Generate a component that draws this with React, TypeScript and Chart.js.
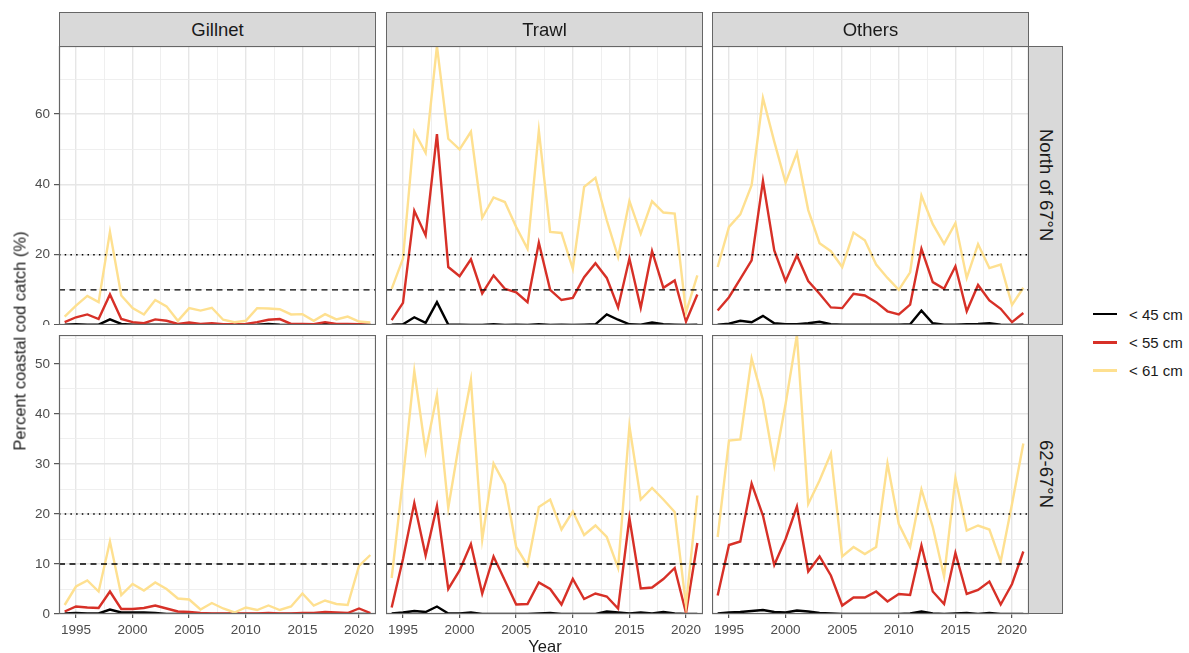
import React, { useEffect, useRef } from "react";
import { Chart, registerables } from "chart.js";

Chart.register(...registerables);

const FONT = '"Liberation Sans", Arial, Helvetica, sans-serif';

// ---------------- data ----------------
const years = [1994, 1995, 1996, 1997, 1998, 1999, 2000, 2001, 2002, 2003, 2004, 2005, 2006, 2007,
  2008, 2009, 2010, 2011, 2012, 2013, 2014, 2015, 2016, 2017, 2018, 2019, 2020, 2021];

const gears = ["Gillnet", "Trawl", "Others"];
const regions = ["North of 67°N", "62-67°N"];
const sizeClasses = ["< 45 cm", "< 55 cm", "< 61 cm"];
const sizeColors = ["#000000", "#D73027", "#FEE090"];

const xTickValues = [1995, 1997.5, 2000, 2002.5, 2005, 2007.5, 2010, 2012.5, 2015, 2017.5, 2020];
const xMin = 1993.5;
const xMax = 2021.5;
const yTicksNorth = [0, 10, 20, 30, 40, 50, 60, 70];
const yTicksSouth = [0, 5, 10, 15, 20, 25, 30, 35, 40, 45, 50, 55];
const yMaxNorth = 79.4;
const yMaxSouth = 55.8;
const dashedLevel = 10;
const dottedLevel = 20;

// North of 67°N
const gillnetNorth45 = [0.1, 0.2, 0.1, 0.1, 1.6, 0.3, 0.1, 0.1, 0.1, 0.1, 0.0, 0.1, 0.0, 0.1, 0.0, 0.0, 0.0, 0.1, 0.3, 0.1, 0.0, 0.0, 0.0, 0.4, 0.1, 0.0, 0.0, 0.0];
const gillnetNorth55 = [0.8, 2.2, 3.0, 1.7, 8.7, 1.7, 0.8, 0.5, 1.6, 1.2, 0.3, 0.7, 0.3, 0.5, 0.2, 0.2, 0.3, 0.8, 1.5, 1.7, 0.3, 0.3, 0.2, 0.8, 0.3, 0.3, 0.2, 0.1];
const gillnetNorth61 = [2.4, 5.5, 8.3, 6.5, 26.5, 8.4, 4.8, 3.0, 7.1, 5.3, 1.2, 4.8, 4.1, 4.9, 1.5, 0.8, 1.2, 4.8, 4.7, 4.5, 3.0, 3.1, 1.2, 3.1, 1.6, 2.4, 1.0, 0.7];

const trawlNorth45 = [0.1, 0.2, 2.2, 0.6, 6.5, 0.1, 0.1, 0.0, 0.0, 0.2, 0.0, 0.1, 0.0, 0.2, 0.0, 0.1, 0.0, 0.1, 0.2, 3.0, 1.5, 0.2, 0.1, 0.7, 0.2, 0.1, 0.0, 0.1];
const trawlNorth55 = [1.4, 6.3, 32.5, 25.5, 54.3, 16.5, 13.9, 18.7, 9.0, 14.1, 10.3, 9.3, 6.5, 23.4, 10.0, 7.1, 7.7, 13.6, 17.6, 13.4, 5.0, 18.9, 4.9, 21.0, 10.6, 12.7, 1.0, 8.7];
const trawlNorth61 = [10.3, 18.9, 55.0, 49.0, 79.4, 53.0, 50.0, 55.0, 30.5, 36.3, 35.0, 27.9, 21.7, 55.3, 26.5, 26.2, 16.0, 39.3, 41.9, 29.8, 19.3, 35.3, 26.0, 35.2, 32.0, 31.7, 3.6, 14.1];

const othersNorth45 = [0.1, 0.4, 1.2, 0.8, 2.6, 0.5, 0.2, 0.2, 0.5, 0.9, 0.2, 0.1, 0.1, 0.1, 0.1, 0.1, 0.1, 0.2, 4.1, 0.5, 0.1, 0.1, 0.2, 0.3, 0.5, 0.1, 0.0, 0.1];
const othersNorth55 = [4.1, 7.9, 13.1, 18.4, 41.0, 21.2, 12.5, 19.8, 12.5, 8.9, 5.0, 4.8, 8.9, 8.4, 6.5, 3.9, 3.0, 5.8, 21.7, 12.2, 10.3, 16.7, 3.9, 11.4, 7.0, 4.6, 0.8, 3.4];
const othersNorth61 = [16.5, 27.9, 31.5, 39.8, 64.6, 52.2, 40.5, 49.0, 32.7, 23.3, 21.0, 16.5, 26.3, 24.1, 17.2, 13.4, 10.0, 15.0, 36.8, 28.7, 23.1, 29.0, 13.4, 23.0, 16.2, 17.2, 5.7, 10.6];

// 62-67°N
const gillnetSouth45 = [0.1, 0.2, 0.1, 0.1, 0.9, 0.3, 0.3, 0.3, 0.2, 0.0, 0.0, 0.0, 0.0, 0.0, 0.0, 0.0, 0.0, 0.0, 0.0, 0.0, 0.0, 0.0, 0.0, 0.0, 0.0, 0.0, 0.0, 0.0];
const gillnetSouth55 = [0.5, 1.5, 1.3, 1.2, 4.5, 1.0, 1.0, 1.2, 1.7, 1.1, 0.5, 0.4, 0.2, 0.1, 0.1, 0.1, 0.1, 0.1, 0.2, 0.1, 0.1, 0.2, 0.2, 0.4, 0.3, 0.2, 1.1, 0.2];
const gillnetSouth61 = [1.8, 5.5, 6.7, 4.5, 14.5, 3.8, 6.0, 4.7, 6.3, 5.0, 3.1, 2.9, 0.9, 2.2, 1.1, 0.3, 1.3, 0.8, 1.7, 0.8, 1.5, 4.1, 1.7, 2.7, 2.0, 1.8, 9.6, 11.8];

const trawlSouth45 = [0.1, 0.3, 0.6, 0.4, 1.5, 0.1, 0.1, 0.3, 0.0, 0.0, 0.0, 0.0, 0.0, 0.1, 0.2, 0.0, 0.0, 0.0, 0.0, 0.5, 0.3, 0.1, 0.3, 0.1, 0.4, 0.1, 0.0, 0.0];
const trawlSouth55 = [1.3, 11.0, 22.2, 11.7, 21.6, 5.0, 8.7, 14.0, 4.1, 11.5, 6.7, 1.9, 2.0, 6.3, 5.0, 1.9, 7.0, 3.0, 4.1, 3.5, 1.1, 19.2, 5.1, 5.3, 7.0, 9.2, 0.2, 14.2];
const trawlSouth61 = [7.2, 27.0, 48.6, 32.5, 43.8, 21.2, 34.7, 46.8, 14.9, 30.1, 25.9, 13.4, 9.7, 21.4, 22.9, 16.9, 20.5, 15.8, 17.7, 15.4, 9.2, 37.6, 22.9, 25.2, 22.9, 20.4, 1.7, 23.7];

const othersSouth45 = [0.1, 0.3, 0.4, 0.6, 0.8, 0.4, 0.3, 0.7, 0.5, 0.2, 0.1, 0.0, 0.0, 0.0, 0.0, 0.0, 0.0, 0.1, 0.5, 0.1, 0.0, 0.1, 0.2, 0.0, 0.2, 0.0, 0.0, 0.0];
const othersSouth55 = [3.7, 13.8, 14.5, 26.1, 19.7, 9.8, 15.0, 21.5, 8.5, 11.5, 7.7, 1.7, 3.3, 3.3, 4.5, 2.5, 4.0, 3.8, 13.7, 4.5, 2.0, 12.2, 4.0, 4.8, 6.5, 1.9, 6.0, 12.5];
const othersSouth61 = [15.4, 34.7, 34.9, 51.1, 42.8, 29.7, 42.0, 55.8, 22.0, 26.7, 32.1, 11.5, 13.4, 12.0, 13.4, 30.1, 18.0, 13.4, 24.9, 17.4, 7.5, 27.2, 16.7, 17.7, 16.9, 10.5, 22.0, 34.1];

const panelSeries = [
  [
    [gillnetNorth45, gillnetNorth55, gillnetNorth61],
    [trawlNorth45, trawlNorth55, trawlNorth61],
    [othersNorth45, othersNorth55, othersNorth61],
  ],
  [
    [gillnetSouth45, gillnetSouth55, gillnetSouth61],
    [trawlSouth45, trawlSouth55, trawlSouth61],
    [othersSouth45, othersSouth55, othersSouth61],
  ],
];

// ---------------- layout ----------------
const COL_LEFT = [59, 386, 712];
const PANEL_W = 317;
const ROW_TOP = [46, 335];
const PANEL_H = 279;
const X_AXIS_H = 26;

const panelBorder = {
  id: "panelBorder",
  afterDraw(chart: any) {
    const { ctx, chartArea: a } = chart;
    ctx.save();
    ctx.strokeStyle = "#666666";
    ctx.lineWidth = 1.2;
    ctx.strokeRect(a.left + 0.5, a.top + 0.5, a.right - a.left - 1, a.bottom - a.top - 1);
    ctx.restore();
  },
};

function Panel({ row, col }: { row: number; col: number }) {
  const ref = useRef<HTMLCanvasElement>(null);
  const ml = col === 0 ? COL_LEFT[0] : 0;
  const mb = row === 1 ? X_AXIS_H : 0;
  const w = PANEL_W + ml;
  const h = PANEL_H + mb;
  const showY = col === 0;
  const showX = row === 1;
  const yTicks = row === 0 ? yTicksNorth : yTicksSouth;
  const yMax = row === 0 ? yMaxNorth : yMaxSouth;
  const yLabelStep = row === 0 ? 20 : 10;

  useEffect(() => {
    const series = panelSeries[row][col];
    const lineSets = [2, 1, 0].map((k, idx) => ({
      label: sizeClasses[k],
      data: years.map((yr, i) => ({ x: yr, y: series[k][i] })),
      borderColor: sizeColors[k],
      backgroundColor: sizeColors[k],
      borderWidth: 2.4,
      pointRadius: 0,
      tension: 0,
      fill: false,
      order: idx + 2,
    }));
    const refSets = [
      { level: dottedLevel, dash: [1.5, 4.2] },
      { level: dashedLevel, dash: [6, 4.5] },
    ].map((r) => ({
      label: "ref" + r.level,
      data: [{ x: xMin, y: r.level }, { x: xMax, y: r.level }],
      borderColor: "#000000",
      borderWidth: 1.4,
      borderDash: r.dash,
      pointRadius: 0,
      fill: false,
      order: 1,
    }));

    const isMajorX = (v: number) => v % 5 === 0;
    const isMajorY = (v: number) => v % yLabelStep === 0;

    const chart = new Chart(ref.current as HTMLCanvasElement, {
      type: "line",
      data: { datasets: [...lineSets, ...refSets] as any },
      options: {
        animation: false,
        responsive: false,
        devicePixelRatio: 1,
        events: [],
        layout: { padding: 0 },
        plugins: { legend: { display: false }, tooltip: { enabled: false } },
        scales: {
          x: {
            type: "linear",
            min: xMin,
            max: xMax,
            afterBuildTicks: (s: any) => {
              s.ticks = xTickValues.map((v) => ({ value: v }));
            },
            afterFit: (s: any) => {
              s.height = mb;
              s.paddingLeft = 0;
              s.paddingRight = 0;
              s.paddingTop = 0;
              s.paddingBottom = 0;
            },
            border: { display: false },
            grid: {
              color: (c: any) => (c.tick && isMajorX(c.tick.value) ? "#E6E6E6" : "#EDEDED"),
              lineWidth: (c: any) => (c.tick && isMajorX(c.tick.value) ? 1.4 : 0.9),
              drawTicks: showX,
              tickLength: 4,
              tickWidth: 1,
              tickColor: (c: any) => (c.tick && isMajorX(c.tick.value) ? "#333333" : "rgba(0,0,0,0)"),
            },
            ticks: {
              display: showX,
              autoSkip: false,
              maxRotation: 0,
              minRotation: 0,
              padding: 4,
              color: "#4D4D4D",
              font: { family: FONT, size: 13.5 },
              callback: (v: any) => (isMajorX(Number(v)) ? String(v) : ""),
            },
          },
          y: {
            type: "linear",
            min: 0,
            max: yMax,
            afterBuildTicks: (s: any) => {
              s.ticks = yTicks.map((v) => ({ value: v }));
            },
            afterFit: (s: any) => {
              s.width = ml;
              s.paddingLeft = 0;
              s.paddingRight = 0;
              s.paddingTop = 0;
              s.paddingBottom = 0;
            },
            border: { display: false },
            grid: {
              color: (c: any) => (c.tick && isMajorY(c.tick.value) ? "#E6E6E6" : "#EDEDED"),
              lineWidth: (c: any) => (c.tick && isMajorY(c.tick.value) ? 1.4 : 0.9),
              drawTicks: showY,
              tickLength: 5,
              tickWidth: 1,
              tickColor: (c: any) => (c.tick && isMajorY(c.tick.value) ? "#333333" : "rgba(0,0,0,0)"),
            },
            ticks: {
              display: showY,
              autoSkip: false,
              padding: 4,
              color: "#4D4D4D",
              font: { family: FONT, size: 13.5 },
              callback: (v: any) => (isMajorY(Number(v)) ? String(v) : ""),
            },
          },
        },
      } as any,
      plugins: [panelBorder],
    });
    return () => chart.destroy();
  }, [row, col]);

  return (
    <canvas
      ref={ref}
      width={w}
      height={h}
      style={{ position: "absolute", left: COL_LEFT[col] - ml, top: ROW_TOP[row], width: w, height: h }}
    />
  );
}

const stripStyle: React.CSSProperties = {
  position: "absolute",
  boxSizing: "border-box",
  background: "#D9D9D9",
  border: "1px solid #666666",
  color: "#1A1A1A",
  fontFamily: FONT,
  fontSize: 18.5,
  display: "flex",
  alignItems: "center",
  justifyContent: "center",
};

export default function App() {
  return (
    <div style={{ position: "absolute", left: 0, top: 0, width: 1189, height: 653, background: "#FFFFFF", overflow: "hidden" }}>
      {[0, 1].map((r) => [0, 1, 2].map((c) => <Panel key={`${r}-${c}`} row={r} col={c} />))}
      {gears.map((g, c) => (
        <div key={g} style={{ ...stripStyle, left: COL_LEFT[c], top: 12, width: PANEL_W, height: 35 }}>
          {g}
        </div>
      ))}
      {regions.map((rg, r) => (
        <div
          key={rg}
          style={{ ...stripStyle, left: COL_LEFT[2] + PANEL_W - 1, top: ROW_TOP[r], width: 35, height: PANEL_H }}
        >
          <span style={{ writingMode: "vertical-rl" }}>{rg}</span>
        </div>
      ))}
      <div
        style={{
          position: "absolute",
          left: 20,
          top: 341,
          transform: "translate(-50%, -50%) rotate(-90deg)",
          whiteSpace: "nowrap",
          fontFamily: FONT,
          fontSize: 16.5,
          color: "#1A1A1A",
        }}
      >
        Percent coastal cod catch (%)
      </div>
      <div
        style={{
          position: "absolute",
          left: 545,
          top: 638,
          transform: "translateX(-50%)",
          whiteSpace: "nowrap",
          fontFamily: FONT,
          fontSize: 16.5,
          lineHeight: "16.5px",
          color: "#1A1A1A",
        }}
      >
        Year
      </div>
      {sizeClasses.map((s, i) => (
        <div key={s} style={{ position: "absolute", left: 1093, top: 314 + i * 28.3 - 10, height: 20, display: "flex", alignItems: "center" }}>
          <div style={{ width: 24, height: 2.5, background: sizeColors[i] }} />
          <span style={{ marginLeft: 12, fontFamily: FONT, fontSize: 15, color: "#1A1A1A", whiteSpace: "nowrap" }}>{s}</span>
        </div>
      ))}
    </div>
  );
}
